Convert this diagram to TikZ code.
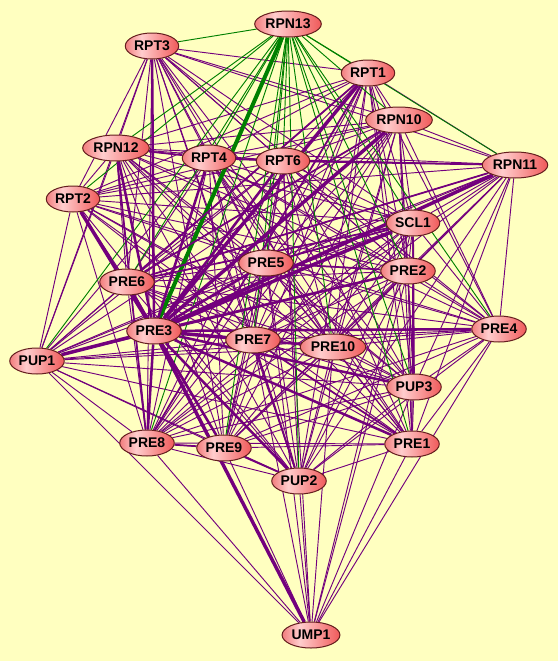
\documentclass[tikz,border=0pt]{standalone}
\usepackage{fontspec}
\setmainfont{Liberation Sans}
\usetikzlibrary{shapes.geometric}
\pgfdeclarelayer{bglayer}
\pgfdeclarelayer{edges}
\pgfsetlayers{bglayer,edges,main}
\definecolor{bg}{RGB}{255,255,192}
\definecolor{pur}{RGB}{115,0,125}
\definecolor{grn}{RGB}{0,128,0}
\definecolor{nodeL}{RGB}{242,125,125}
\definecolor{nodeM}{RGB}{255,205,205}
\definecolor{nodeR}{RGB}{240,90,90}
\definecolor{nodeB}{RGB}{100,30,30}
\pgfdeclarehorizontalshading{nodeshade}{100bp}{color(0bp)=(nodeL); color(25bp)=(nodeL); color(40bp)=(nodeM); color(75bp)=(nodeR); color(100bp)=(nodeR)}
\begin{document}
\begin{tikzpicture}[x=0.75pt,y=-0.75pt,
  prot/.style={ellipse, draw=nodeB, line width=0.75pt, shading=nodeshade,
    minimum height=19.5pt, inner xsep=0.75pt, inner ysep=0pt,
    font=\fontsize{10.5}{12}\selectfont\bfseries},
  pe/.style={draw=pur, line width=0.7pt},
  pmed/.style={draw=pur, line width=1.3pt},
  pthk/.style={draw=pur, line width=1.9pt},
  pvthk/.style={draw=pur, line width=2.6pt},
  ge/.style={draw=grn, line width=0.7pt},
  gthk/.style={draw=grn, line width=3pt}]
\begin{pgfonlayer}{bglayer}
\fill[bg] (0,0) rectangle (558,661);
\end{pgfonlayer}
\useasboundingbox (0,0) rectangle (558,661);

\node[prot] (RPN13) at (288,24) {RPN13};
\node[prot] (RPT3) at (152,46) {RPT3};
\node[prot] (RPT1) at (368,73) {RPT1};
\node[prot] (RPN10) at (399,120) {RPN10};
\node[prot] (RPN12) at (116,148) {RPN12};
\node[prot] (RPT4) at (209,158) {RPT4};
\node[prot] (RPT6) at (283,161) {RPT6};
\node[prot] (RPN11) at (515,165) {RPN11};
\node[prot] (RPT2) at (73,199) {RPT2};
\node[prot] (SCL1) at (413,223) {SCL1};
\node[prot] (PRE5) at (266,263) {PRE5};
\node[prot] (PRE6) at (127,282) {PRE6};
\node[prot] (PRE2) at (408,271) {PRE2};
\node[prot] (PRE3) at (154,331) {PRE3};
\node[prot] (PRE7) at (253,340) {PRE7};
\node[prot] (PRE10) at (333,347) {PRE10};
\node[prot] (PRE4) at (499,329) {PRE4};
\node[prot] (PUP1) at (37,361) {PUP1};
\node[prot] (PUP3) at (414,387) {PUP3};
\node[prot] (PRE8) at (147,443) {PRE8};
\node[prot] (PRE9) at (224,448) {PRE9};
\node[prot] (PRE1) at (412,444) {PRE1};
\node[prot] (PUP2) at (299,481) {PUP2};
\node[prot] (UMP1) at (311,635) {UMP1};

\def\plist{RPT3,RPT1,RPN10,RPN12,RPT4,RPT6,RPN11,RPT2,SCL1,PRE5,PRE6,PRE2,PRE3,PRE7,PRE10,PRE4,PUP1,PUP3,PRE8,PRE9,PRE1,PUP2}
\begin{pgfonlayer}{edges}
\foreach \a [count=\i] in \plist {
  \foreach \b [count=\j] in \plist {
    \ifnum\j>\i \draw[pe] (\a) -- (\b); \fi
  }
}
\foreach \b in {PUP1,PRE8,PRE6,PRE9,PRE7,PRE5,RPT6,PUP2,PRE10,PRE1,PUP3,PRE2,PRE4,SCL1}
  \draw[pe] (UMP1) -- (\b);
\foreach \b in {RPT3,RPT1,RPN10,RPN12,RPT4,RPT6,RPN11,RPT2,SCL1,PRE5,PRE6,PRE2,PRE7,PRE10,PRE4,PUP1,PUP3,PRE8,PRE9,PRE1,PUP2}
  \draw[ge] (RPN13) -- (\b);
\draw[gthk] (RPN13) -- (PRE3);
\foreach \a/\b in {RPT4/RPT6,RPN12/RPT4,RPT1/PRE8,RPN10/PRE6,PRE6/SCL1,PRE7/PRE10,PRE7/PRE1,SCL1/PRE5,RPN11/PRE6,RPT1/PRE6,RPN12/PRE8,PRE2/PRE5,SCL1/PUP3,PRE9/PUP2,PRE8/PRE9,RPT6/RPN11,PRE7/PUP2}
  \draw[pmed] (\a) -- (\b);
\foreach \b in {RPN12,RPT3,RPT4,RPT6,PRE2,PRE4,PUP3,PRE1,PUP2,PRE9,PRE8,PRE10,PRE5,PRE6}
  \draw[pthk] (PRE3) -- (\b);
\foreach \b in {SCL1,RPN10,RPT1,PRE7,RPN11,UMP1,PUP1,RPT2}
  \draw[pvthk] (PRE3) -- (\b);
\end{pgfonlayer}
\end{tikzpicture}
\end{document}
